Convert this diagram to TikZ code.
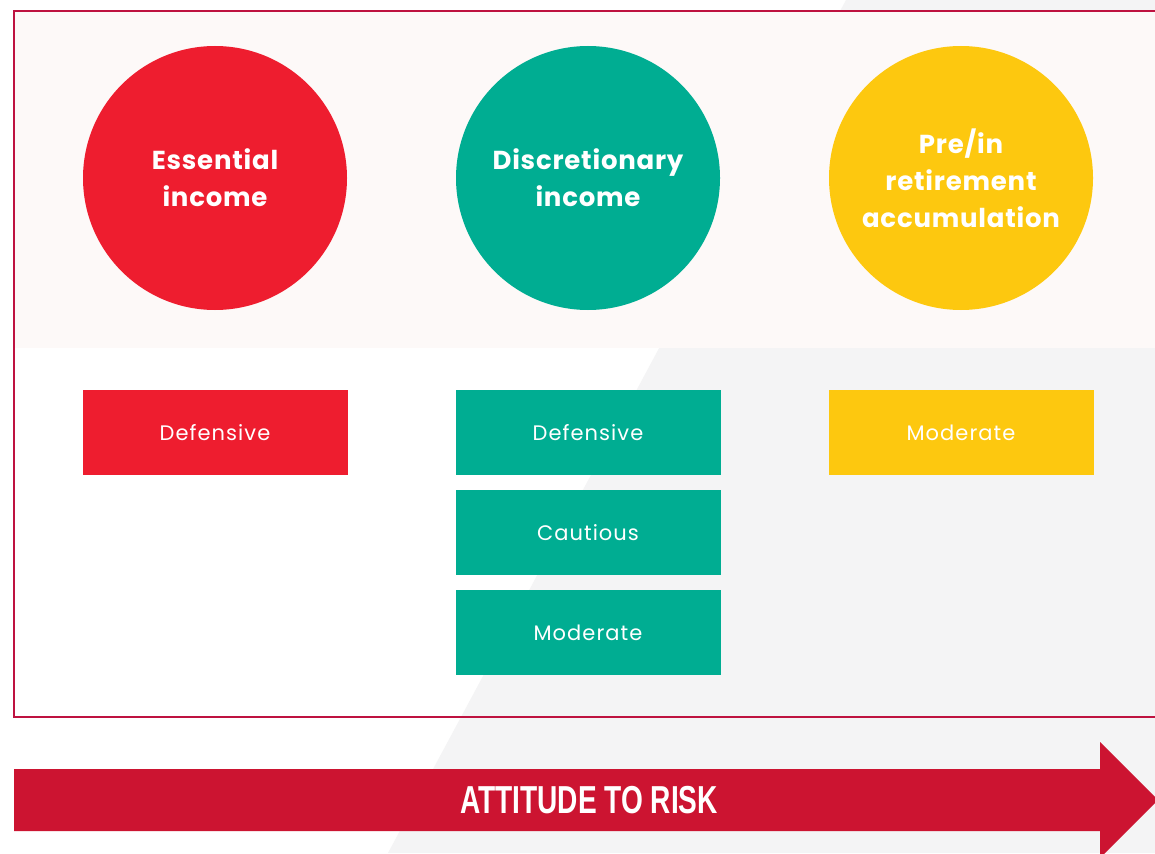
\documentclass[tikz,border=0pt]{standalone}
\usepackage{fontspec}
\setmainfont{Poppins}
\newfontfamily\bucketfont[LetterSpace=3]{Poppins}
\newfontfamily\profilefont[LetterSpace=5]{Poppins}
\newfontfamily\riskfont[FakeStretch=0.72]{Liberation Sans}
\usepackage{xcolor}
\usepackage{tikz}

\definecolor{riskred}{HTML}{CC1431}
\definecolor{framered}{HTML}{BE1240}
\definecolor{essred}{HTML}{EE1D2F}
\definecolor{discteal}{HTML}{00AD92}
\definecolor{retyellow}{HTML}{FDC80F}
\definecolor{bandpink}{HTML}{FDF9F8}
\definecolor{shadegray}{HTML}{F4F4F5}

\tikzset{
  bucket/.style={circle,minimum size=264pt,inner sep=0pt,align=center,text=white,
    font=\bucketfont\bfseries\fontsize{26}{37}\selectfont},
  profile/.style={minimum width=265pt,minimum height=85pt,inner sep=0pt,text=white,
    font=\profilefont\fontsize{21}{24}\selectfont}
}

\begin{document}
\begin{tikzpicture}[x=1pt,y=-1pt]
\useasboundingbox (0,0) rectangle (1155,853);

% background
\fill[white] (0,0) rectangle (1155,853);
\fill[shadegray] (846,0) -- (1155,0) -- (1155,853) -- (388,853) -- cycle;
\fill[bandpink] (15,11) rectangle (1155,348);
\draw[framered,line width=2pt] (1160,11) -- (14,11) -- (14,717) -- (1160,717);

% buckets
\node[bucket,fill=essred](essential) at (215,178){Essential\\income};
\node[bucket,fill=discteal](discretionary) at (588,178){Discretionary\\income};
\node[bucket,fill=retyellow](retirement) at (961,178){Pre/in\\retirement\\accumulation};

% risk profiles
\node[profile,fill=essred](ess1) at (215,432.5){Defensive};
\node[profile,fill=discteal](disc1) at (588,432.5){Defensive};
\node[profile,fill=discteal](disc2) at (588,532.5){Cautious};
\node[profile,fill=discteal](disc3) at (588,632.5){Moderate};
\node[profile,fill=retyellow](ret1) at (961,432.5){Moderate};

% arrow
\fill[riskred] (14,769) -- (1100,769) -- (1100,742) -- (1158,800) -- (1100,858)
  -- (1100,831) -- (14,831) -- cycle;
\node[text=white,font=\riskfont\bfseries\fontsize{39}{40}\selectfont](risk) at (589,800){ATTITUDE TO RISK};

\end{tikzpicture}
\end{document}
